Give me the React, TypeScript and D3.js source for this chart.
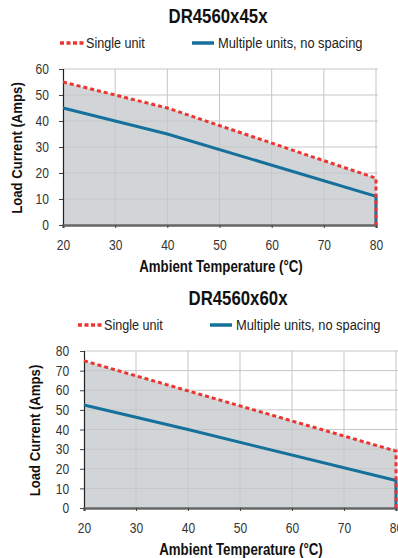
import * as d3 from "d3";
import React, { useEffect, useRef } from "react";

// chart 1 : DR4560x45x
const temps45 = [20, 40, 80, 80];
const single45 = [55, 45, 18, 0];
const multi45 = [45, 35, 11, 0];

// chart 2 : DR4560x60x
const temps60 = [20, 40, 80, 80];
const single60 = [75, 59.7, 29, 0];
const multi60 = [52.5, 40, 14, 0];

const xTicks = [20, 30, 40, 50, 60, 70, 80];
const yTicks45 = [0, 10, 20, 30, 40, 50, 60];
const yTicks60 = [0, 10, 20, 30, 40, 50, 60, 70, 80];

const RED = "#ec3530";
const BLUE = "#15709c";
const FILL = "#d2d5d7";
const GRID = "#c6c6c6";
const FONT = "'Liberation Sans', Arial, sans-serif";

// condensed text: no narrow font installed, so squeeze horizontally
const nText = (parent, x, y, str, size, k, opts: any = {}) =>
  parent
    .append("text")
    .attr("transform", `translate(${x},${y}) ${opts.rotate ? "rotate(-90)" : ""} scale(${k},1)`)
    .attr("text-anchor", opts.anchor || "start")
    .style("font-family", FONT)
    .style("font-size", size + "px")
    .style("font-weight", opts.bold ? "bold" : "normal")
    .attr("fill", opts.fill || "#222")
    .text(str);

const drawChart = (svg, opt) => {
  const { title, temps, single, multi, yMax, yTicks, x0, x1, yTop, yBot, top } = opt;
  const x = d3.scaleLinear().domain([20, 80]).range([x0, x1]);
  const y = d3.scaleLinear().domain([0, yMax]).range([yBot, yTop]);
  const g = svg.append("g");

  // title
  nText(g, opt.titleX, top + 23, title, 20, 0.84, { anchor: "middle", bold: true, fill: "#111" });

  // legend
  const ly = top + 43;
  const lx = opt.legendX;
  g.append("line")
    .attr("x1", lx).attr("x2", lx + 25).attr("y1", ly).attr("y2", ly)
    .attr("stroke", RED).attr("stroke-width", 3.5).attr("stroke-dasharray", "4,2.5");
  nText(g, lx + 26, ly + 5, "Single unit", 14, 0.9);
  g.append("line")
    .attr("x1", lx + 132).attr("x2", lx + 154).attr("y1", ly).attr("y2", ly)
    .attr("stroke", BLUE).attr("stroke-width", 3.5);
  nText(g, lx + 158, ly + 5, "Multiple units, no spacing", 14, 0.92);

  // area under single unit curve
  const pts = temps.map((t, i) => [t, single[i]]);
  const area = d3.area().x((d) => x(d[0])).y0(y(0)).y1((d) => y(d[1]));
  g.append("path").datum(pts).attr("d", area).attr("fill", FILL);

  // grid
  g.selectAll(".vg").data(xTicks.slice(1)).enter().append("line")
    .attr("x1", (d) => x(d)).attr("x2", (d) => x(d))
    .attr("y1", yTop).attr("y2", yBot)
    .attr("stroke", GRID).attr("stroke-width", 1);
  g.selectAll(".hg").data(yTicks.slice(1)).enter().append("line")
    .attr("x1", x0).attr("x2", x1 + 2)
    .attr("y1", (d) => y(d)).attr("y2", (d) => y(d))
    .attr("stroke", GRID).attr("stroke-width", 1);

  // axes
  const yAxis = g.append("g").attr("transform", `translate(${x0},0)`)
    .call(d3.axisLeft(y).tickValues(yTicks).tickSize(4).tickPadding(opt.yPad));
  yAxis.select(".domain").attr("stroke", "#222").attr("stroke-width", 1.2);
  yAxis.selectAll(".tick line").attr("stroke", "#444");
  yAxis.selectAll("text")
    .attr("transform", "scale(0.83,1)")
    .style("font-family", FONT).style("font-size", "14.5px").attr("fill", "#333");

  const xAxis = g.append("g").attr("transform", `translate(0,${yBot})`)
    .call(d3.axisBottom(x).tickValues(xTicks).tickSize(3).tickPadding(12));
  xAxis.select(".domain").attr("stroke", "#666").attr("stroke-width", 2.5);
  xAxis.selectAll(".tick line").attr("stroke", "#444");
  xAxis.selectAll("text")
    .attr("transform", "scale(0.83,1)")
    .style("font-family", FONT).style("font-size", "14.5px").attr("fill", "#333");

  // lines
  const line = d3.line().x((d) => x(d[0])).y((d) => y(d[1]));
  g.append("path").datum(temps.map((t, i) => [t, multi[i]]))
    .attr("d", line).attr("fill", "none")
    .attr("stroke", BLUE).attr("stroke-width", 3);
  g.append("path").datum(pts)
    .attr("d", line).attr("fill", "none")
    .attr("stroke", RED).attr("stroke-width", 3).attr("stroke-dasharray", "4,3");

  // axis titles
  nText(g, opt.xTitleX, yBot + 47, "Ambient Temperature (°C)", 16, 0.83, { anchor: "middle", bold: true, fill: "#111" });
  nText(g, opt.yTitleX, (yTop + yBot) / 2 + 1, "Load Current (Amps)", 15.5, 0.85, {
    anchor: "middle", bold: true, fill: "#111", rotate: true,
  });
};

const App = () => {
  const svgRef = useRef();

  useEffect(() => {
    const svg = d3.select(svgRef.current).html("");
    drawChart(svg, {
      title: "DR4560x45x", temps: temps45, single: single45, multi: multi45,
      yMax: 60, yTicks: yTicks45,
      x0: 63, x1: 376, yTop: 69, yBot: 225, top: 0,
      titleX: 218, legendX: 60, xTitleX: 221, yTitleX: 22, yPad: 13,
    });
    drawChart(svg, {
      title: "DR4560x60x", temps: temps60, single: single60, multi: multi60,
      yMax: 80, yTicks: yTicks60,
      x0: 84, x1: 396, yTop: 351, yBot: 508, top: 282,
      titleX: 238, legendX: 78, xTitleX: 241, yTitleX: 40, yPad: 14,
    });
  }, []);

  return (
    <svg
      ref={svgRef}
      width={398}
      height={558}
      style={{ position: "absolute", left: 0, top: 0, background: "#fff" }}
    />
  );
};

export default App;
